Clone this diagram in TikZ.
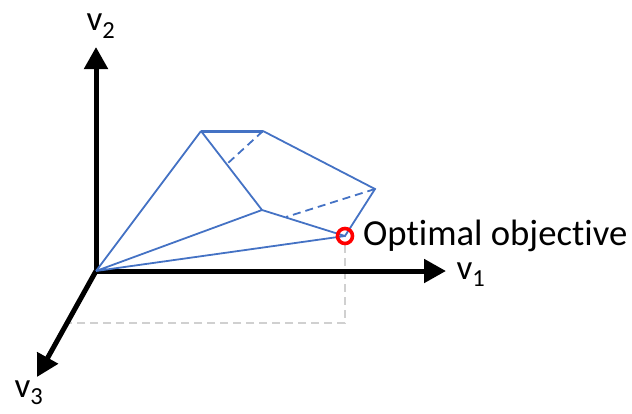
\documentclass[tikz,border=0pt]{standalone}
\usepackage{fontspec}
\setmainfont[Ligatures=NoCommon]{Carlito}
\usetikzlibrary{arrows.meta}
\definecolor{polyblue}{HTML}{4472C4}
\definecolor{guide}{HTML}{D0D0D0}
\tikzset{
  axis/.style={line width=5pt,-{Triangle[length=22pt,width=23pt]}},
  edge/.style={polyblue,line width=1.8pt},
  edgedash/.style={polyblue,line width=1.8pt,dash pattern=on 8pt off 5pt},
  guideline/.style={guide,line width=1.8pt,dash pattern=on 8pt off 5pt},
  lab/.style={inner sep=0pt,font=\fontsize{36.7}{42}\selectfont},
  vlab/.style={inner sep=0pt,font=\fontsize{35}{40}\selectfont}
}
\begin{document}
\begin{tikzpicture}[x=1pt,y=-1pt]
\useasboundingbox (0,0) rectangle (632,413);
\coordinate (O) at (96,271);
\coordinate (A) at (201,131);
\coordinate (B) at (263,131);
\coordinate (C) at (375,189);
\coordinate (D) at (262,210);
\coordinate (E) at (345,236);
\coordinate (F) at (227,164);
\coordinate (G) at (286,217);
\coordinate (Y) at (96,47);
\coordinate (X) at (446,271);
\coordinate (Z) at (37,377);
\coordinate (P) at (345,323);
\coordinate (Q) at (66,323);
\draw[guideline] (E) ++(0,9) -- (P) -- (Q);
\draw[axis] (O) -- (Y);
\draw[axis] (O) -- (X);
\draw[axis] (O) -- (Z);
\draw[edge] (O) -- (A) (O) -- (D) (O) -- (E) (A) -- (D) -- (E) -- (C) -- (B);
\draw[edge,line width=3pt] (A) -- (B);
\draw[edgedash] (B) -- (F);
\draw[edgedash] (C) -- (G);
\node[circle,draw=red,line width=3.6pt,minimum size=15pt,inner sep=0pt] (opt) at (E) {};
\node[lab,anchor=west] (optl) at (363,236) {Optimal objective};
\node[vlab] (v2) at (101,26) {v\textsubscript{2}};
\node[vlab] (v1) at (471,275) {v\textsubscript{1}};
\node[vlab] (v3) at (29,393) {v\textsubscript{3}};
\end{tikzpicture}
\end{document}
